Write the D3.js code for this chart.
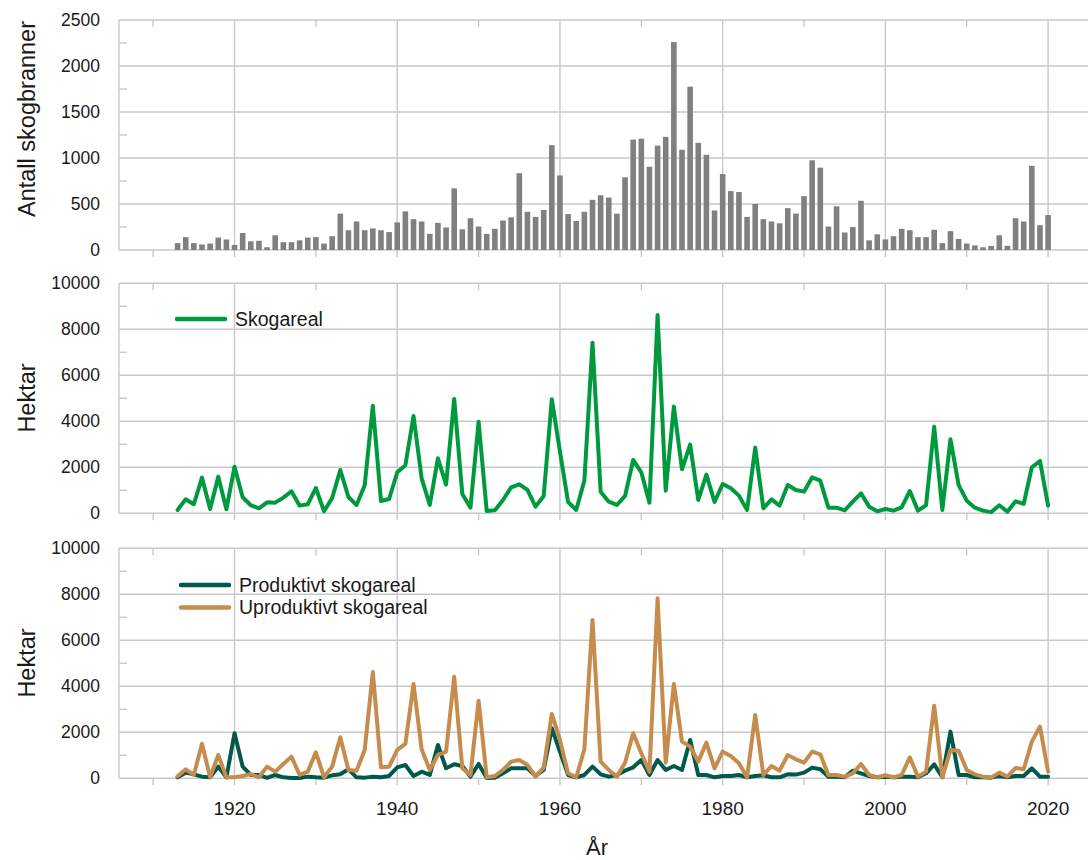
<!DOCTYPE html>
<html><head><meta charset="utf-8">
<script src="https://cdn.jsdelivr.net/npm/d3@7"></script>
<style>
html,body{margin:0;padding:0;background:#fff;}
svg{display:block;font-family:"Liberation Sans",Arial,sans-serif;}
</style></head>
<body><svg id="c" width="1088" height="860"></svg>
<script>
// Categories
const years = d3.range(1913, 2021);
// Antall skogbranner (number of forest fires)
const antall = [
 75,140,75,60,70,135,115,
 55,185,95,100,30,160,85,85,105,135,
 140,70,150,395,215,310,215,235,215,195,
 300,420,335,310,175,295,245,670,225,345,
 255,175,230,320,355,835,415,360,435,1140,
 810,390,315,415,545,595,570,395,790,1200,
 1210,905,1135,1230,2260,1090,1775,1165,1035,430,
 825,640,630,360,500,335,310,290,455,395,
 585,975,895,255,475,190,250,535,105,170,
 115,150,230,215,140,140,220,75,205,120,
 70,50,30,45,160,45,345,310,915,270,
 380];
// Skogareal (hektar)
const skogareal = [
 145,608,393,1551,188,1594,174,
 2028,696,348,218,478,464,681,957,333,391,
 1101,87,667,1884,710,362,1217,4680,536,623,
 1783,2087,4232,1522,362,2391,1246,4970,839,246,
 3985,100,130,580,1130,1261,1014,289,754,4957,
 2680,493,145,1420,7420,941,507,362,754,2319,
 1783,464,8620,984,4638,1913,2985,580,1681,493,
 1275,1087,768,145,2855,218,608,333,1232,1014,
 941,1565,1420,246,246,130,507,870,289,87,
 188,116,261,971,116,348,3768,145,3218,1232,
 550,246,116,50,348,72,522,406,2000,2275,
 333];
// Produktivt skogareal (hektar)
const produktivt = [
 43,246,174,72,43,507,43,
 1957,507,145,145,20,145,43,10,14,72,
 43,29,130,174,391,43,29,72,43,101,
 478,580,101,289,145,1449,435,608,536,72,
 623,10,29,217,435,435,435,101,362,2174,
 1159,145,43,145,507,174,72,145,333,478,
 797,145,797,362,536,362,1667,145,145,43,
 101,101,145,43,101,130,43,43,174,160,
 246,464,391,72,72,43,333,217,101,43,
 72,43,72,72,43,217,608,43,2029,145,
 145,43,43,29,101,43,101,101,435,72,
 72];
// Uproduktivt skogareal (hektar)
const uproduktivt = [
 85,391,145,1500,43,1014,43,
 43,101,188,43,507,289,623,942,145,289,
 1130,43,507,1783,362,333,1232,4623,478,507,
 1232,1493,4102,1261,362,1014,1159,4420,435,145,
 3376,43,100,362,724,797,580,72,464,2797,
 1667,217,43,1261,6884,724,362,72,680,1957,
 1087,289,7826,680,4102,1594,1376,724,1551,435,
 1159,971,652,43,2754,145,536,333,1014,826,
 680,1159,1043,145,145,72,217,623,145,43,
 130,43,145,913,72,289,3159,43,1232,1202,
 362,174,72,29,246,72,449,391,1594,2246,
 289];
const xTickLabels = [1920,1940,1960,1980,2000,2020];
const yTicks1 = [0,500,1000,1500,2000,2500];
const yTicks2 = [0,2000,4000,6000,8000,10000];

const svg = d3.select("#c");
const gridC = "#c9c9c9";
const x = d3.scaleLinear().domain([1905.8, 2025.15]).range([119, 1090]);
const panels = [
  {top:20, max:2500, ticks:yTicks1, title:"Antall skogbranner", tcy:119},
  {top:283.3, max:10000, ticks:yTicks2, title:"Hektar", tcy:398},
  {top:548.3, max:10000, ticks:yTicks2, title:"Hektar", tcy:663}
];
const H = 230;
panels.forEach(p => {
  p.y = d3.scaleLinear().domain([0, p.max]).range([p.top + H, p.top]);
  const g = svg.append("g");
  g.selectAll(".hg").data(p.ticks).enter().append("line")
    .attr("x1", 119).attr("x2", 1088)
    .attr("y1", d => p.y(d)).attr("y2", d => p.y(d))
    .attr("stroke", gridC).attr("stroke-width", 1.4);
  g.selectAll(".vg").data(xTickLabels).enter().append("line")
    .attr("x1", d => x(d)).attr("x2", d => x(d))
    .attr("y1", p.top).attr("y2", p.top + H)
    .attr("stroke", gridC).attr("stroke-width", 1.4);
  g.append("line").attr("x1", 119).attr("x2", 119).attr("y1", p.top).attr("y2", p.top + H)
    .attr("stroke", gridC).attr("stroke-width", 1.4);
  const step = p.ticks[1] - p.ticks[0];
  const minor = p.ticks.slice(0, -1).map(t => t + step / 2);
  g.selectAll(".my").data(minor).enter().append("line")
    .attr("x1", 119).attr("x2", 127)
    .attr("y1", d => p.y(d)).attr("y2", d => p.y(d))
    .attr("stroke", gridC).attr("stroke-width", 1.4);
  const decades = d3.range(1910, 2021, 10);
  g.selectAll(".bt").data(decades).enter().append("line")
    .attr("x1", d => x(d)).attr("x2", d => x(d))
    .attr("y1", p.top + H).attr("y2", p.top + H + 7)
    .attr("stroke", gridC).attr("stroke-width", 1.4);
  g.selectAll(".tt").data(decades.filter(d => d % 20 === 10)).enter().append("line")
    .attr("x1", d => x(d)).attr("x2", d => x(d))
    .attr("y1", p.top).attr("y2", p.top + 7)
    .attr("stroke", gridC).attr("stroke-width", 1.4);
  g.selectAll(".yl").data(p.ticks).enter().append("text")
    .attr("x", 100).attr("y", d => p.y(d)).attr("dy", "0.35em")
    .attr("text-anchor", "end").attr("font-size", 17.5).attr("fill", "#1a1a1a")
    .text(d => d);
  g.append("text").attr("transform", `translate(35,${p.tcy}) rotate(-90)`)
    .attr("text-anchor", "middle").attr("font-size", 23.5).attr("fill", "#1a1a1a")
    .text(p.title);
});

const p1 = panels[0];
svg.append("g").selectAll("rect").data(years).enter().append("rect")
  .attr("x", (d) => x(d) - 2.8).attr("width", 5.6)
  .attr("y", (d, i) => p1.y(antall[i]))
  .attr("height", (d, i) => p1.y(0) - p1.y(antall[i]))
  .attr("fill", "#808080");

function drawLine(p, vals, color) {
  const line = d3.line().x((d, i) => x(years[i])).y(d => p.y(d));
  svg.append("path").datum(vals).attr("d", line)
    .attr("fill", "none").attr("stroke", color).attr("stroke-width", 4)
    .attr("stroke-linejoin", "round").attr("stroke-linecap", "round");
}
const cSkog = "#009a3e", cProd = "#00594a", cUprod = "#c68c4e";
drawLine(panels[1], skogareal, cSkog);
drawLine(panels[2], produktivt, cProd);
drawLine(panels[2], uproduktivt, cUprod);

function legend(xl, yl, color, label) {
  svg.append("line").attr("x1", xl).attr("x2", xl + 48).attr("y1", yl).attr("y2", yl)
    .attr("stroke", color).attr("stroke-width", 4.5).attr("stroke-linecap", "round");
  svg.append("text").attr("x", xl + 58).attr("y", yl).attr("dy", "0.35em")
    .attr("font-size", 19.5).attr("fill", "#1a1a1a").text(label);
}
legend(177, 319, cSkog, "Skogareal");
legend(181, 585, cProd, "Produktivt skogareal");
legend(181, 607.5, cUprod, "Uproduktivt skogareal");

svg.append("g").selectAll("text").data(xTickLabels).enter().append("text")
  .attr("x", d => x(d)).attr("y", 815).attr("text-anchor", "middle")
  .attr("font-size", 19).attr("fill", "#1a1a1a").text(d => d);
svg.append("text").attr("x", 597).attr("y", 855).attr("text-anchor", "middle")
  .attr("font-size", 22).attr("fill", "#1a1a1a").text("År");
</script></body></html>
